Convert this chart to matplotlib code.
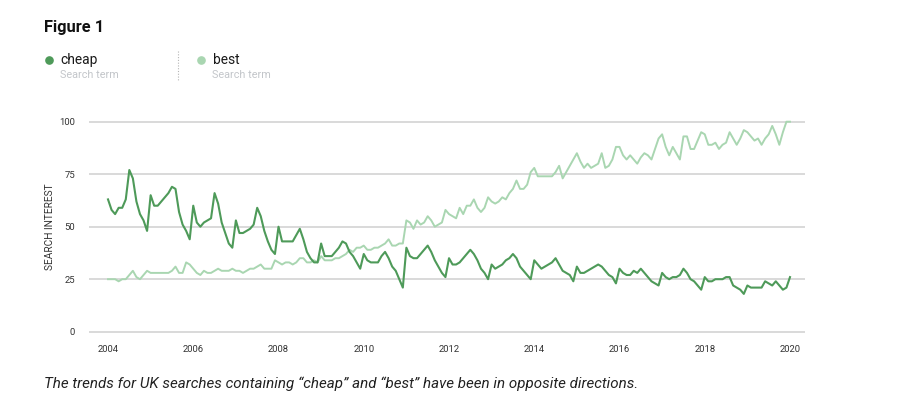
import numpy as np
import matplotlib.pyplot as plt
from matplotlib.lines import Line2D

plt.rcParams['font.family'] = ['Roboto', 'DejaVu Sans']

# monthly search interest, Jan 2004 .. Jan 2020
cheap = [63, 58, 56, 59, 59, 63, 77, 73, 62, 56, 53, 48,
         65, 60, 60, 62, 64, 66, 69, 68, 57, 51, 48, 44,
         60, 52, 50, 52, 53, 54, 66, 61, 52, 47, 42, 40,
         53, 47, 47, 48, 49, 51, 59, 55, 48, 43, 39, 37,
         50, 43, 43, 43, 43, 46, 49, 44, 38, 35, 33, 33,
         42, 36, 36, 36, 38, 40, 43, 42, 38, 36, 33, 30,
         37, 34, 33, 33, 33, 36, 38, 35, 31, 29, 25, 21,
         40, 36, 35, 35, 37, 39, 41, 38, 34, 31, 28, 26,
         35, 32, 32, 33, 35, 37, 39, 37, 34, 30, 28, 25,
         32, 30, 31, 32, 34, 35, 37, 35, 31, 29, 27, 25,
         34, 32, 30, 31, 32, 33, 35, 32, 29, 28, 27, 24,
         31, 28, 28, 29, 30, 31, 32, 31, 29, 27, 26, 23,
         30, 28, 27, 27, 29, 28, 30, 28, 26, 24, 23, 22,
         28, 26, 25, 26, 26, 27, 30, 28, 25, 24, 22, 20,
         26, 24, 24, 25, 25, 25, 26, 26, 22, 21, 20, 18,
         22, 21, 21, 21, 21, 24, 23, 22, 24, 22, 20, 21,
         26]
best = [25, 25, 25, 24, 25, 25, 27, 29, 26, 25, 27, 29,
        28, 28, 28, 28, 28, 28, 29, 31, 28, 28, 33, 32,
        30, 28, 27, 29, 28, 28, 29, 30, 29, 29, 29, 30,
        29, 29, 28, 29, 30, 30, 31, 32, 30, 30, 30, 34,
        33, 32, 33, 33, 32, 33, 35, 35, 33, 33, 34, 33,
        36, 34, 34, 34, 35, 35, 36, 37, 39, 38, 40, 40,
        41, 39, 39, 40, 40, 41, 42, 44, 41, 41, 42, 42,
        53, 52, 49, 53, 51, 52, 55, 53, 50, 51, 52, 58,
        56, 55, 54, 59, 56, 60, 60, 63, 59, 57, 59, 64,
        62, 61, 62, 64, 63, 66, 68, 72, 68, 68, 70, 76,
        78, 74, 74, 74, 74, 74, 76, 79, 73, 76, 79, 82,
        85, 81, 78, 80, 78, 79, 80, 85, 78, 79, 82, 88,
        88, 84, 82, 84, 82, 80, 83, 85, 84, 82, 87, 92,
        94, 88, 84, 88, 85, 82, 93, 93, 87, 87, 91, 95,
        94, 89, 89, 90, 87, 89, 90, 95, 92, 89, 92, 96,
        95, 93, 91, 92, 89, 92, 94, 98, 94, 89, 95, 100,
        100]
start_year = 2004
year_ticks = [2004, 2006, 2008, 2010, 2012, 2014, 2016, 2018, 2020]
y_ticks = [0, 25, 50, 75, 100]
terms = ['cheap', 'best']

c_cheap = '#4e9a59'
c_best = '#a9d6b1'

dates = start_year + np.arange(len(cheap)) / 12

W, H = 898, 411
fig = plt.figure(figsize=(W / 100, H / 100), dpi=100)
ax = fig.add_axes([89 / W, 1 - 342.2 / H, (805 - 89) / W, (342.2 - 111.2) / H])

for y in y_ticks:
    ax.axhline(y, color='#d0d0d0', lw=1.1, zorder=0)
ax.plot(dates, best, color=c_best, lw=1.4)
ax.plot(dates, cheap, color=c_cheap, lw=1.5)

ax.set_xlim(2003.554, 2020.352)
ax.set_ylim(-5, 105)
ax.set_xticks(year_ticks)
ax.set_xticklabels([str(y) for y in year_ticks])
ax.set_yticks(y_ticks)
ax.tick_params(length=0, labelsize=6.8, colors='#333333')
ax.tick_params(axis='y', pad=10)
ax.tick_params(axis='x', pad=2)
for s in ax.spines.values():
    s.set_visible(False)

fig.text(50 / W, 1 - 226.7 / H, 'SEARCH INTEREST', rotation=90, ha='center', va='center',
         fontsize=7.3, color='#333333')

# header and legend
fig.text(44 / W, 1 - 27.5 / H, 'Figure 1', fontsize=11.8, fontweight='bold', va='center', color='#111111')
for name, col, x0 in zip(terms, [c_cheap, c_best], [48.5, 201]):
    fig.add_artist(Line2D([x0 / W], [1 - 60.5 / H], marker='o', markersize=5.2, color=col,
                          transform=fig.transFigure))
    fig.text((x0 + 11.5) / W, 1 - 60.3 / H, name, fontsize=9.9, va='center', color='#1a1a1a')
    fig.text((x0 + 11.5) / W, 1 - 75 / H, 'Search term', fontsize=7.8, va='center', color='#c3c6ca')
fig.add_artist(Line2D([178.3 / W] * 2, [1 - 50.7 / H, 1 - 80.7 / H], linestyle=(0, (1, 1.5)),
                      color='#b5b5b5', lw=0.8, transform=fig.transFigure))

fig.text(44 / W, 1 - 384 / H,
         'The trends for UK searches containing \u201ccheap\u201d and \u201cbest\u201d have been in opposite directions.',
         fontsize=10.9, style='italic', va='center', color='#222222')

fig.savefig('out.png', dpi=100)
